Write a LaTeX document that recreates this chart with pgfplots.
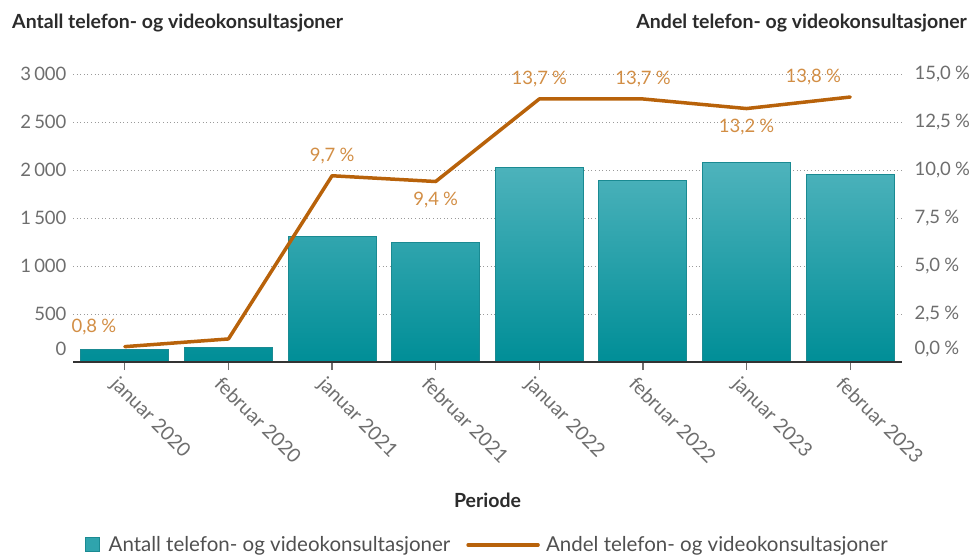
\documentclass[border=0pt]{standalone}
\usepackage{fontspec}
\setmainfont{Lato}
\usepackage{pgfplots}
\pgfplotsset{compat=1.18}
\definecolor{barTop}{HTML}{4EB3BC}
\definecolor{barBot}{HTML}{008E97}
\definecolor{barEdge}{HTML}{1A8A92}
\definecolor{lineC}{HTML}{B8620A}
\definecolor{lblC}{HTML}{D28E45}
\definecolor{tickC}{HTML}{6E6E6E}
\definecolor{gridC}{HTML}{9A9A9A}
\definecolor{axisC}{HTML}{333333}
\definecolor{titleC}{HTML}{2B2B2B}
\definecolor{legC}{HTML}{505050}
\begin{document}
\begin{tikzpicture}
\useasboundingbox (-73pt,-194pt) rectangle (900pt,362pt);
\begin{axis}[
  at={(0pt,0pt)}, anchor=south west,
  scale only axis, width=829pt, height=288pt,
  xmin=-0.5, xmax=7.5, ymin=0, ymax=3000,
  axis x line=none, axis y line*=left,
  y axis line style={draw=none},
  ytick={500,1000,1500,2000,2500,3000},
  ytick style={draw=none},
  extra y ticks={0},
  extra y tick style={grid=none, yticklabel style={yshift=13pt}},
  ymajorgrids,
  grid style={gridC, dash pattern=on 1pt off 2.6pt, line width=0.9pt},
  yticklabel style={font=\fontsize{18.5}{22}\selectfont, text=tickC, xshift=-3pt},
  /pgf/number format/1000 sep={\,},
  /pgf/number format/assume math mode=true,
]
\addplot[ybar, bar width=0.85, draw=barEdge, line width=1pt, top color=barTop, bottom color=barBot]
  table[x=x, y=y] {
x y
0 125
1 150
2 1305
3 1243
4 2024
5 1893
6 2073
7 1948
};
\end{axis}
\begin{axis}[
  name=ax2,
  at={(0pt,0pt)}, anchor=south west,
  scale only axis, width=829pt, height=288pt,
  xmin=-0.5, xmax=7.5, ymin=0, ymax=15,
  axis x line*=bottom, axis y line*=right,
  y axis line style={draw=none},
  x axis line style={draw=axisC, line width=1.6pt},
  xtick={0,1,2,3,4,5,6,7},
  xticklabels={januar 2020, februar 2020, januar 2021, februar 2021, januar 2022, februar 2022, januar 2023, februar 2023},
  xticklabel style={xshift=-5pt, rotate=-45, anchor=north west, font=\fontsize{19.5}{22}\selectfont, text=tickC},
  tick align=outside, major tick length=8pt,
  xtick style={draw=tickC, line width=1.2pt},
  ytick={2.5,5,7.5,10,12.5,15},
  ytick style={draw=none},
  extra y ticks={0},
  extra y tick style={yticklabel style={yshift=13pt}},
  yticklabel={\pgfmathprintnumber[fixed,fixed zerofill,precision=1,use comma]{\tick}\hspace{0.22em}\%},
  yticklabel style={font=\fontsize{18.5}{22}\selectfont, text=tickC, xshift=1pt},
  /pgf/number format/assume math mode=true,
  xlabel={Periode},
  xlabel style={at={(axis description cs:0.5,-0.479)}, anchor=center, font=\fontsize{19.5}{22}\selectfont\bfseries, text=titleC},
  legend style={at={(0.5,-0.635)}, anchor=center, draw=none, fill=none,
    font=\fontsize{20.5}{24}\selectfont, text=legC},
  legend columns=2, legend cell align=left,
]
\addlegendimage{legend image code/.code={\draw[draw=barEdge, fill=barTop!60!barBot, line width=1pt] (0pt,-7pt) rectangle (14pt,7pt); \path[draw=none] (14pt,0pt) -- (21pt,0pt);}}
\addlegendentry{Antall telefon- og videokonsultasjoner\rule{14pt}{0pt}}
\addplot[lineC, line width=3.5pt, line join=round, line cap=round,
  legend image code/.code={\draw[lineC, line width=3.5pt] (0pt,0pt) -- (70pt,0pt); \path[draw=none] (70pt,0pt) -- (76pt,0pt);}]
  table[x=x, y=y] {
x y
0 0.8
1 1.2
2 9.7
3 9.4
4 13.7
5 13.7
6 13.2
7 13.8
};
\addlegendentry{Andel telefon- og videokonsultasjoner}
\addplot[draw=none, mark=none, forget plot,
  point meta=explicit,
  nodes near coords={\pgfmathprintnumber[fixed,fixed zerofill,precision=1,use comma]{\pgfplotspointmeta}\hspace{0.22em}\%},
  visualization depends on={\thisrow{dx}\as\dx},
  visualization depends on={\thisrow{dy}\as\dy},
  every node near coord/.append style={anchor=center, xshift=\dx pt, yshift=\dy pt,
    font=\fontsize{18.5}{22}\selectfont, text=lblC, inner sep=0pt}]
  table[x=x, y=y, meta=v] {
x y v dx dy
0 0.8 0.8 -31 20
2 9.7 9.7 0 20
3 9.4 9.4 0 -19
4 13.7 13.7 0 20
5 13.7 13.7 0 20
6 13.2 13.2 0 -18
7 13.8 13.8 -37 20
};
\end{axis}
\node[anchor=west, font=\fontsize{19.5}{23}\selectfont\bfseries, text=titleC, inner sep=0pt]
  at ([xshift=-61pt,yshift=51pt]ax2.north west) {Antall telefon- og videokonsultasjoner};
\node[anchor=east, font=\fontsize{19.5}{23}\selectfont\bfseries, text=titleC, inner sep=0pt]
  at ([xshift=65pt,yshift=51pt]ax2.north east) {Andel telefon- og videokonsultasjoner};
\end{tikzpicture}
\end{document}
